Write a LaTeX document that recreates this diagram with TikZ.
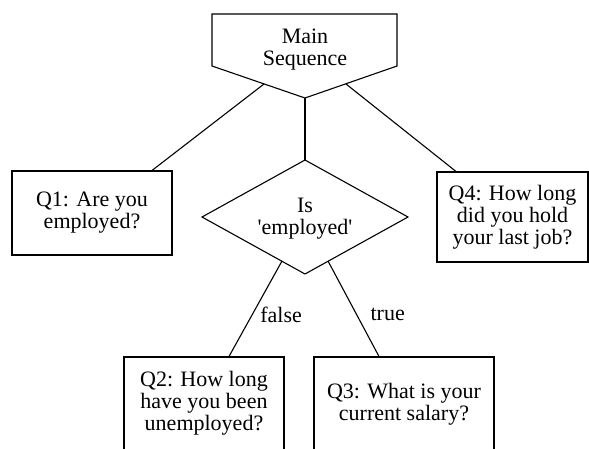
\documentclass[tikz,border=0pt]{standalone}
\usepackage{fontspec}
\setmainfont{Liberation Serif}
\begin{document}
\begin{tikzpicture}[x=1pt,y=-1pt,
  line width=1.1pt,
  txt/.style={font=\fontsize{22}{22}\selectfont, align=center, inner sep=0pt},
  box/.style={draw, rectangle, txt},
  lbl/.style={font=\fontsize{22}{22}\selectfont, inner sep=0pt, anchor=west}]
\useasboundingbox (0,0) rectangle (589,448);
% Main sequence shape
\coordinate (mTL) at (212,14);
\coordinate (mTR) at (397,14);
\coordinate (mRB) at (397,66);
\coordinate (mLB) at (212,66);
\coordinate (mP) at (305,98);
\draw (mTL) -- (mTR) -- (mRB) -- (mP) -- (mLB) -- cycle;
\node[txt] (main) at (305,50) {Main\\Sequence};
\coordinate (mL) at (264,84);
\coordinate (mR) at (346,84);
% Q1
\node[box, minimum width=160pt, minimum height=84pt] (q1) at (92,213) {Q1: Are you\\employed?};
% Q4
\node[box, minimum width=151pt, minimum height=90pt] (q4) at (512.5,217) {Q4: How long\\did you hold\\your last job?};
% Diamond
\coordinate (dT) at (305,160);
\coordinate (dL) at (202,217);
\coordinate (dB) at (305,274);
\coordinate (dR) at (408,217);
\draw (dT) -- (dR) -- (dB) -- (dL) -- cycle;
\node[txt] (dec) at (305,219) {Is\\\textquotesingle employed\textquotesingle};
\coordinate (dBL) at (282,261);
\coordinate (dBR) at (328,261);
% Q2, Q3 (boxes run past the lower edge)
\node[box, minimum width=160pt, minimum height=110pt] (q2) at (204,412) {};
\node[txt] (q2t) at (204,403) {Q2: How long\\have you been\\unemployed?};
\node[box, minimum width=180pt, minimum height=110pt] (q3) at (404,412) {};
\node[txt] (q3t) at (404,404) {Q3: What is your\\current salary?};
% connectors
\draw (mL) -- (q1.north -| 152,0);
\draw (mR) -- (q4.north -| 456,0);
\draw (mP) -- (dT);
\draw (dBL) -- node[lbl, pos=0.56, xshift=7.5pt] {false} (q2.north -| 229,0);
\draw (dBR) -- node[lbl, pos=0.56, xshift=13.5pt] {true} (q3.north -| 379,0);
\end{tikzpicture}
\end{document}
